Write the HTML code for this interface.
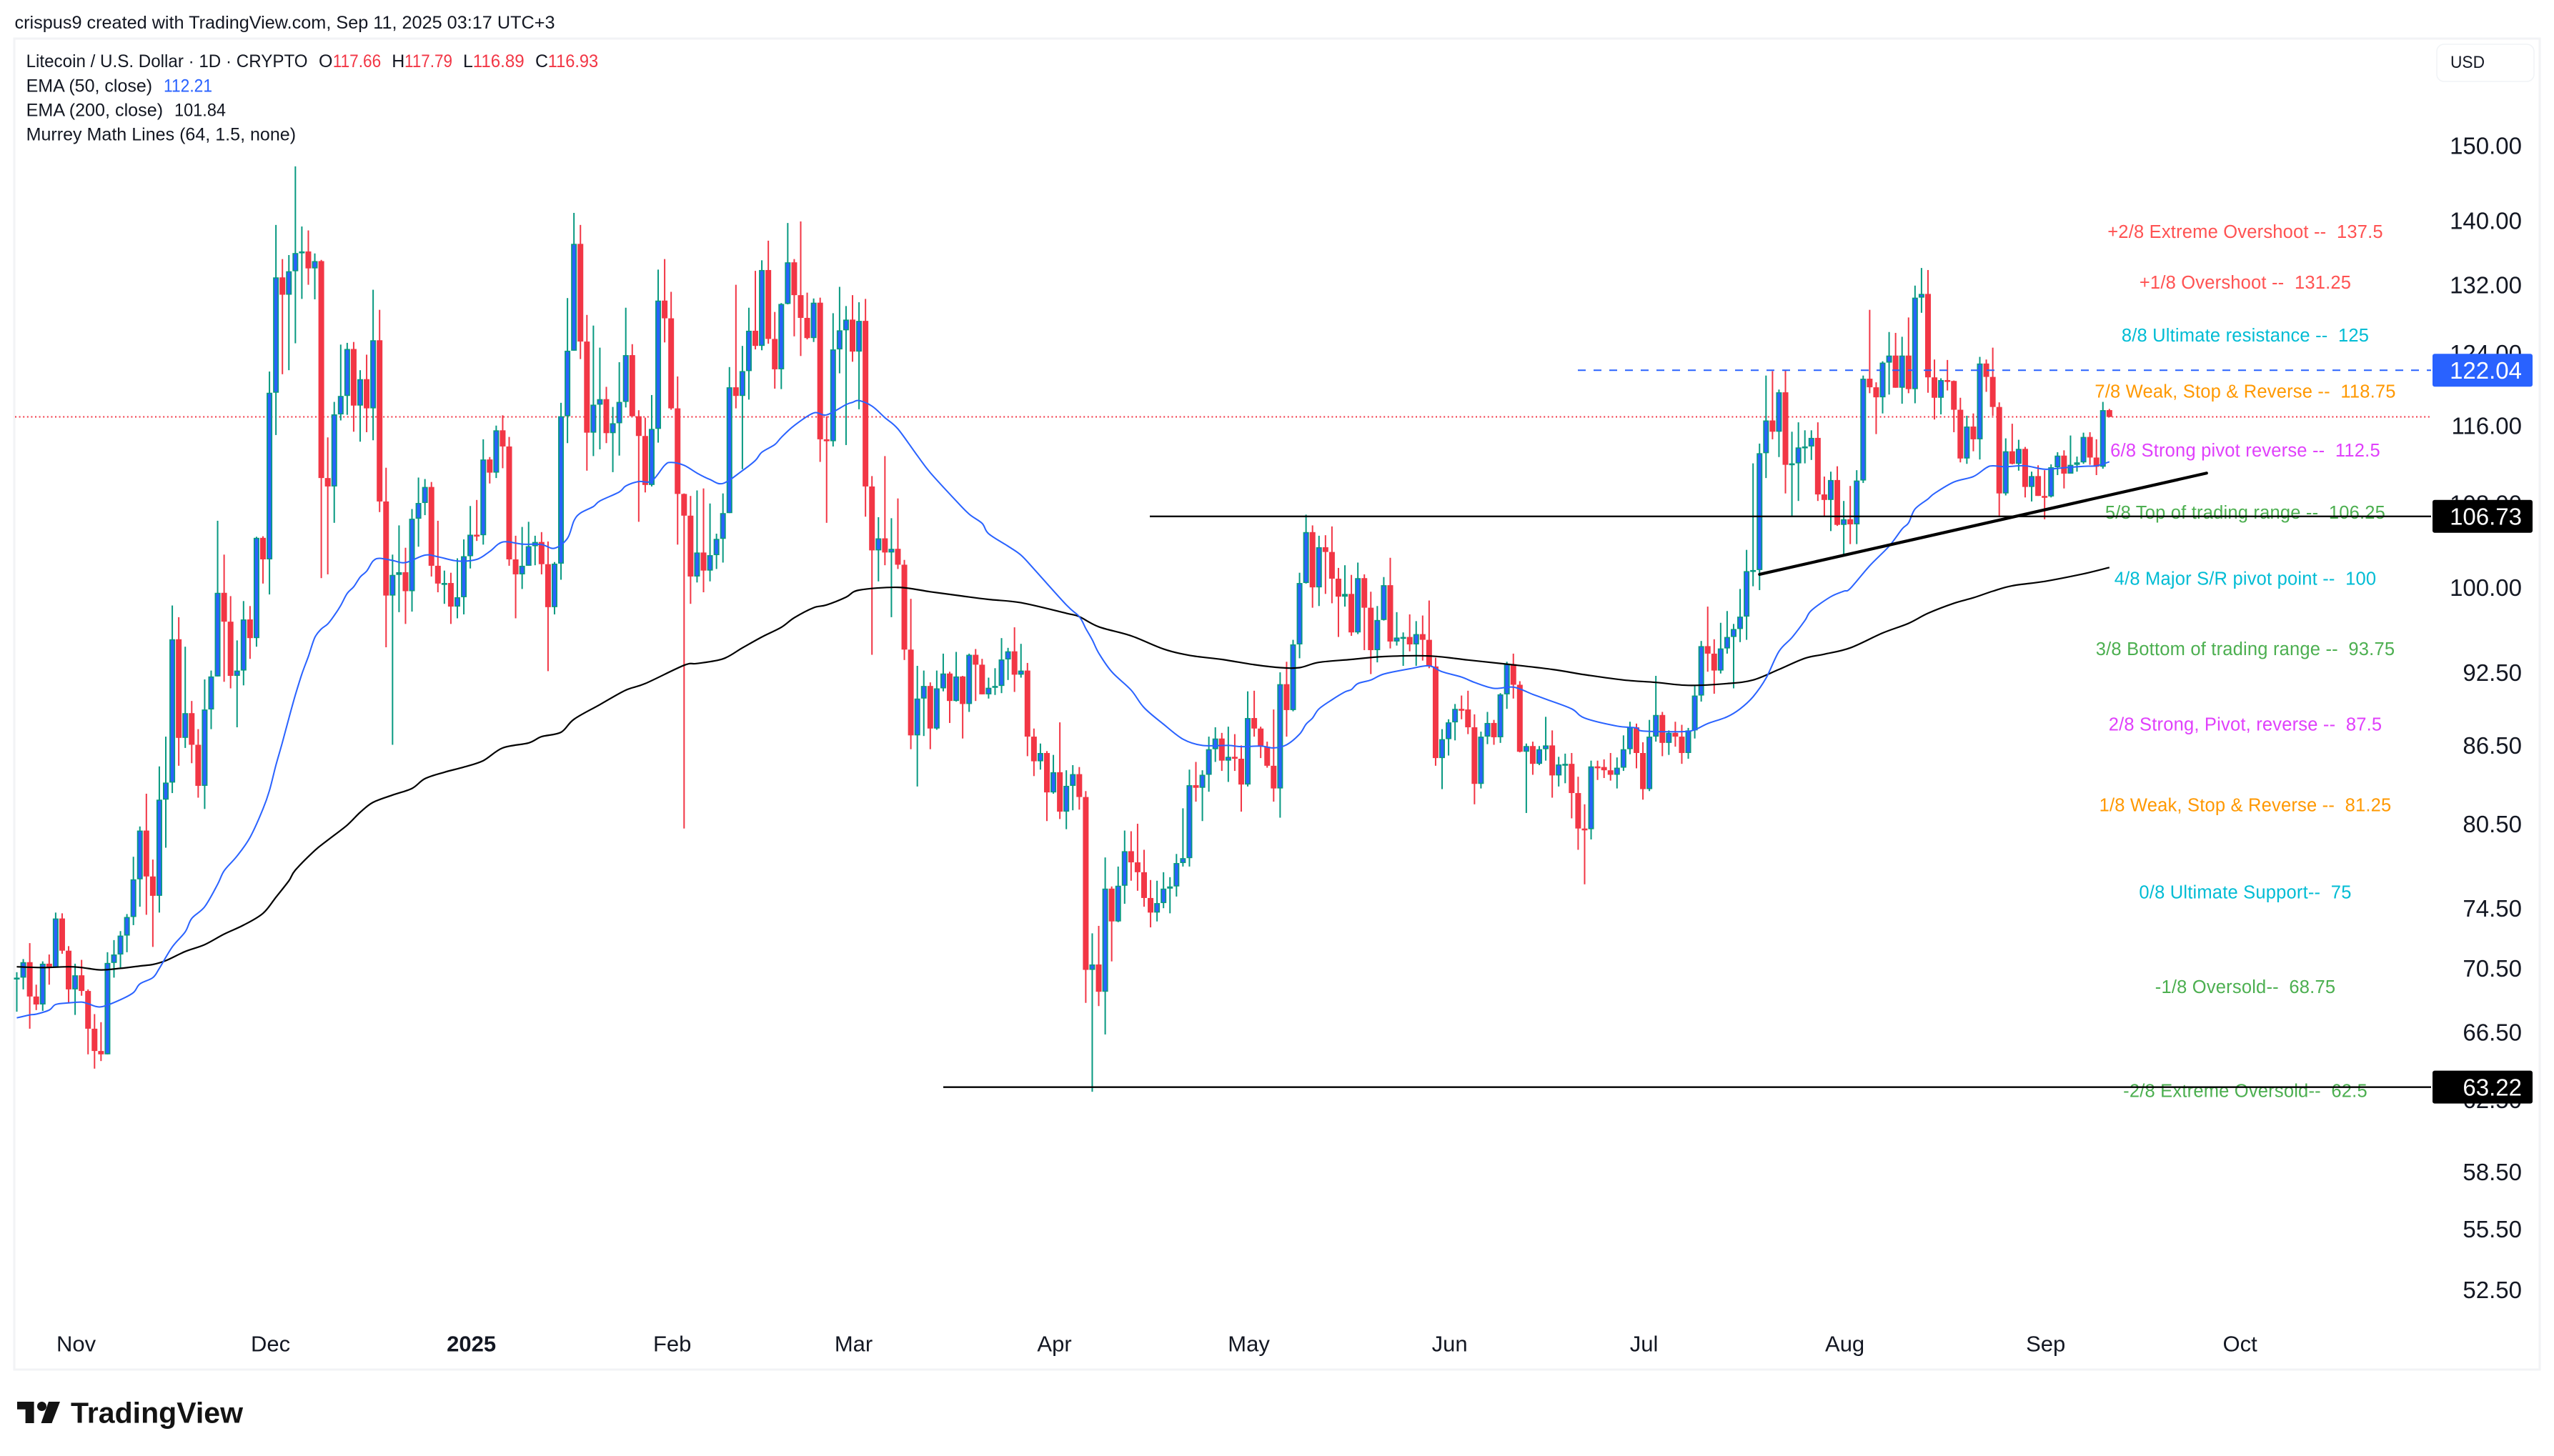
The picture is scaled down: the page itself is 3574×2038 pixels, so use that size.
<!DOCTYPE html>
<html lang="en">
<head>
<meta charset="utf-8">
<title>Litecoin / U.S. Dollar chart</title>
<style>
  html,body{margin:0;padding:0;background:#fff;width:3574px;height:2038px;overflow:hidden}
  svg{display:block;font-family:"Liberation Sans",sans-serif}
  text{white-space:pre}
</style>
</head>
<body>
<svg id="chart" xmlns="http://www.w3.org/2000/svg" width="3574" height="2038" viewBox="0 0 3574 2038">
  <rect x="0" y="0" width="3574" height="2038" fill="#ffffff"/>
  <rect x="20" y="54" width="3534" height="1863" fill="#ffffff" stroke="#f2f3f5" stroke-width="3"/>
  <g id="layer-price-line"></g>
  <g id="layer-candles"></g>
  <g id="layer-ema"></g>
  <g id="layer-murrey"></g>
  <g id="layer-drawings"></g>
  <g id="layer-yaxis"></g>
  <g id="layer-xaxis"></g>
  <g id="layer-badges"></g>

  <text x="20.5" y="40" font-size="25" fill="#131722" textLength="756" lengthAdjust="spacingAndGlyphs">crispus9 created with TradingView.com, Sep 11, 2025 03:17 UTC+3</text>

  <g font-size="25" fill="#131722">
    <text x="36.6" y="94" textLength="394" lengthAdjust="spacingAndGlyphs">Litecoin / U.S. Dollar · 1D · CRYPTO</text>
    <text x="446" y="94">O</text>
    <text x="465.7" y="94" fill="#f23645" textLength="67.5" lengthAdjust="spacingAndGlyphs">117.66</text>
    <text x="548.3" y="94">H</text>
    <text x="566" y="94" fill="#f23645" textLength="67" lengthAdjust="spacingAndGlyphs">117.79</text>
    <text x="648" y="94">L</text>
    <text x="661.7" y="94" fill="#f23645" textLength="72" lengthAdjust="spacingAndGlyphs">116.89</text>
    <text x="749" y="94">C</text>
    <text x="766.7" y="94" fill="#f23645" textLength="70.5" lengthAdjust="spacingAndGlyphs">116.93</text>
    <text x="36.6" y="128.3" textLength="176.5" lengthAdjust="spacingAndGlyphs">EMA (50, close)</text>
    <text x="229" y="128.3" fill="#2962ff" textLength="68" lengthAdjust="spacingAndGlyphs">112.21</text>
    <text x="36.6" y="162.3" textLength="191.5" lengthAdjust="spacingAndGlyphs">EMA (200, close)</text>
    <text x="244" y="162.3" textLength="72" lengthAdjust="spacingAndGlyphs">101.84</text>
    <text x="36.6" y="196.7" textLength="377.5" lengthAdjust="spacingAndGlyphs">Murrey Math Lines (64, 1.5, none)</text>
  </g>

  <g>
    <rect x="3410" y="62" width="136" height="52" rx="10" ry="10" fill="#ffffff" stroke="#f0f3f6" stroke-width="1.5"/>
    <text x="3429" y="95" font-size="24" fill="#131722" textLength="48" lengthAdjust="spacingAndGlyphs">USD</text>
  </g>

  <g>
    <path d="M24 1962H47.6V1992H35.6V1972.7H24Z" fill="#131313"/>
    <circle cx="58.5" cy="1968.5" r="6.5" fill="#131313"/>
    <path d="M68 1962H84L72.5 1992H57.5Z" fill="#131313"/>
    <text x="99" y="1991.7" font-size="41" font-weight="700" fill="#131313" textLength="241" lengthAdjust="spacingAndGlyphs">TradingView</text>
  </g>
</svg>

<script>
const firstOpen = 69.85;
const closes = [
69.9,70.9,68.7,68.2,70.8,70.55,73.8,71.65,69.15,70.05,
69.05,66.7,65.35,65.15,70.85,71.4,72.65,73.9,76.5,80.0,
76.7,75.35,82.3,83.6,95.35,87.1,89.1,86.55,83.35,89.4,
92.15,99.5,96.9,92.2,92.65,97.1,95.45,104.65,102.6,119.55,
132.9,130.8,133.65,135.9,136.1,134.0,134.9,110.55,109.7,117.2,
119.2,124.45,118.15,121.05,117.85,125.45,108.2,99.25,101.15,101.4,
99.65,106.5,108.05,109.65,102.0,100.35,100.4,98.25,99.1,102.9,
104.95,104.9,112.45,111.1,115.5,113.8,102.6,101.2,102.0,103.85,
104.25,102.15,98.2,102.2,117.0,124.25,137.05,125.3,115.25,118.25,
118.85,115.2,116.25,118.55,123.75,117.0,114.9,109.85,115.65,130.1,
128.0,117.85,108.95,106.8,101.0,103.25,101.55,103.0,104.55,107.05,
120.15,119.2,121.95,126.55,124.8,133.8,125.6,122.15,129.7,134.75,
130.75,128.05,125.7,129.85,114.55,114.35,124.4,126.6,127.85,124.15,
127.7,109.7,103.45,104.6,103.25,103.6,102.1,94.45,87.3,90.3,
91.35,87.85,91.15,92.4,90.1,92.15,89.85,94.0,93.15,90.65,
91.2,91.35,93.6,94.3,92.3,92.65,87.2,85.25,85.9,82.85,
84.4,81.4,83.35,84.25,82.5,70.4,70.75,69.0,75.85,73.6,
76.05,78.5,77.7,77.0,75.2,74.2,74.85,75.85,76.0,77.65,
78.0,83.4,83.2,84.2,86.2,87.05,85.3,85.6,85.45,83.45,
88.7,87.85,86.4,84.9,83.15,91.5,89.35,94.9,100.4,105.2,
100.0,103.75,103.3,100.8,99.15,99.4,95.95,100.85,98.15,94.4,
97.05,100.2,95.15,95.5,95.55,94.9,95.8,95.3,93.0,85.5,
87.0,88.35,89.45,89.4,87.95,83.5,87.2,88.3,87.15,90.65,
93.2,91.45,86.0,86.45,85.05,86.2,86.5,84.15,85.0,85.05,
82.8,80.15,80.1,84.85,84.8,84.55,84.2,84.75,86.2,87.95,
85.9,83.1,87.2,88.95,86.7,87.5,87.2,85.9,87.7,90.55,
94.75,94.1,92.65,94.55,95.55,96.25,97.35,101.5,101.6,113.1,
116.55,115.35,119.6,111.9,112.05,113.7,113.8,114.7,108.9,108.35,
110.35,105.9,106.45,105.95,110.3,121.1,120.15,119.05,122.9,123.7,
120.1,123.7,119.95,130.45,130.9,121.25,119.0,120.95,120.85,117.7,
112.55,115.9,114.55,122.8,121.3,118.0,109.0,113.3,112.0,113.55,
109.65,110.75,108.75,108.7,111.65,112.85,111.0,111.9,112.15,114.8,
112.65,111.7,117.66,116.93];
const highs = [
70.25,71.1,72.15,69.45,70.95,71.4,74.2,74.15,71.95,70.8,
71.05,69.15,67.6,67.1,71.55,72.35,72.95,74.1,78.1,80.3,
82.75,77.9,84.85,87.2,98.35,97.3,94.7,90.1,87.8,91.9,
92.65,106.3,103.05,99.2,95.25,98.75,98.3,104.75,104.8,121.9,
139.45,135.15,135.65,147.15,139.25,138.75,135.85,135.05,114.75,118.55,
124.95,125.15,125.25,122.05,123.8,131.4,129.0,111.6,103.05,105.85,
103.7,107.45,110.6,110.45,110.15,106.3,101.55,101.35,102.7,104.5,
107.75,108.35,114.55,112.7,116.0,117.1,114.8,104.85,105.7,106.2,
104.85,105.2,104.3,102.35,118.45,130.4,141.0,139.45,128.4,127.15,
124.6,120.2,118.0,122.95,129.25,125.0,117.65,116.85,119.3,133.85,
135.15,131.15,121.35,109.0,108.75,109.3,109.5,108.0,105.05,109.0,
122.4,132.0,124.8,129.25,133.7,135.0,137.45,128.75,129.8,139.7,
135.15,139.9,131.05,130.35,130.45,117.0,128.6,131.75,129.45,130.75,
129.9,130.3,110.75,106.65,112.8,106.55,108.5,102.55,98.95,93.05,
92.65,91.65,92.65,94.1,92.55,94.25,92.2,94.1,94.5,93.65,
92.05,92.85,95.45,94.6,96.4,94.95,93.3,87.85,86.65,86.05,
85.75,88.35,84.55,84.95,84.8,82.95,72.8,73.3,78.05,76.0,
77.4,80.0,79.95,80.5,78.6,76.45,76.4,77.0,76.65,78.3,
81.65,84.6,85.2,84.55,87.2,87.95,87.5,88.0,87.4,86.5,
90.9,90.95,88.0,86.8,89.4,92.5,93.4,95.3,101.35,106.9,
105.85,104.85,104.9,105.75,101.8,102.05,101.15,102.3,101.2,99.6,
98.3,100.95,102.75,97.75,95.95,97.55,96.95,97.45,98.8,93.75,
87.8,88.6,89.85,90.55,90.95,89.0,87.6,89.2,88.55,90.75,
93.4,94.1,91.75,86.65,86.8,86.45,88.8,87.7,85.6,85.85,
85.9,84.05,81.95,85.3,85.3,85.4,85.9,85.55,87.3,88.4,
88.25,86.75,88.55,92.2,89.2,87.7,88.4,88.15,87.9,91.35,
95.2,98.25,95.35,96.8,97.85,96.7,99.85,103.5,112.05,114.1,
121.45,121.95,119.9,122.1,115.35,116.35,115.5,115.5,116.35,110.7,
111.2,111.75,108.25,109.75,111.35,121.45,129.0,120.7,123.05,126.4,
126.3,125.85,128.1,131.9,134.05,133.8,123.25,121.15,123.2,120.9,
119.0,117.05,117.3,123.55,123.25,124.6,118.5,114.65,116.2,114.5,
113.75,111.2,111.85,111.35,111.95,113.2,113.4,114.95,112.75,115.25,
115.3,114.55,118.55,117.79];
const lows = [
67.75,69.15,66.7,67.85,67.8,69.45,70.55,71.45,68.3,67.55,
68.75,65.15,64.3,64.75,65.15,69.9,70.55,71.55,73.35,74.6,
74.05,71.9,74.2,78.75,82.8,84.9,86.3,85.1,82.45,81.6,
87.8,92.15,91.7,91.15,87.95,91.4,93.65,94.7,100.35,99.35,
115.0,121.6,122.05,125.1,130.3,132.0,130.25,100.85,101.2,106.1,
116.55,117.15,115.35,114.3,115.3,114.45,107.15,94.65,86.55,97.75,
96.7,97.8,103.8,106.85,101.0,99.55,98.5,96.7,97.2,97.55,
101.75,104.35,104.0,110.0,110.55,111.55,102.0,97.2,99.85,102.0,
102.05,101.2,92.6,97.55,100.7,114.15,124.25,123.3,111.3,112.8,
113.5,114.15,111.15,112.85,117.95,117.0,106.2,109.1,109.7,114.2,
125.2,117.7,104.0,80.15,98.5,100.45,99.55,100.55,101.7,102.3,
107.05,117.85,111.45,118.8,124.4,124.3,125.05,120.0,119.95,129.65,
125.9,123.65,125.55,125.25,112.2,106.1,113.8,121.7,113.95,123.0,
117.75,106.7,94.0,100.55,102.05,97.3,101.7,93.55,86.2,83.3,
87.25,86.2,87.75,90.9,88.3,90.05,87.05,89.2,90.1,90.65,
90.3,90.6,90.75,91.85,90.85,92.05,85.65,84.1,84.6,80.7,
82.75,80.85,80.1,81.5,81.55,68.3,62.95,68.1,66.35,70.95,
73.55,74.8,76.4,75.7,74.6,73.2,73.6,74.5,74.15,75.3,
77.4,77.4,82.15,80.7,82.9,85.2,84.5,83.65,84.5,81.4,
83.3,87.2,85.5,84.75,82.15,80.95,87.2,89.25,93.7,100.35,
98.15,98.3,99.4,98.55,95.55,98.25,95.65,95.8,94.4,92.35,
93.35,97.0,94.55,94.8,93.05,94.3,93.05,93.5,92.85,84.9,
83.1,85.7,86.9,88.6,87.4,81.95,83.15,86.6,86.55,86.7,
89.45,90.3,85.95,81.3,84.2,84.95,85.3,82.45,83.3,83.55,
80.9,78.6,76.15,79.35,83.8,83.95,83.75,83.15,84.5,85.8,
84.7,82.3,82.95,86.8,85.65,85.75,86.4,85.05,85.45,87.05,
90.05,92.55,90.7,92.4,94.1,91.15,95.1,95.3,100.1,99.75,
110.55,114.55,112.7,109.0,106.65,108.25,112.05,112.4,108.25,106.75,
105.3,105.8,103.05,104.05,104.05,110.05,119.5,115.1,117.3,119.35,
120.1,118.35,119.5,118.4,128.65,119.55,116.65,117.2,119.8,115.3,
112.15,112.0,113.3,112.45,119.65,117.05,106.65,108.8,111.95,111.3,
108.6,108.2,108.75,106.45,108.6,110.85,109.5,111.05,111.2,112.0,
111.9,110.85,111.5,116.89];

const ema50Bars = [0,2,3,5,6,8,10,11,13,16,18,19,21,22,24,26,27,29,31,32,34,36,38,39,40,41,42,43,44,45,46,47,48,49,50,51,52,53,54,55,56,58,60,63,65,68,71,73,75,78,81,83,85,86,87,89,90,93,94,96,98,100,101,103,105,107,109,112,114,115,117,118,120,123,125,128,129,130,132,134,136,139,141,145,147,149,150,153,155,157,162,164,165,166,167,169,172,174,177,180,183,187,189,192,194,196,198,199,200,201,203,205,206,207,209,211,215,218,220,223,225,228,231,234,236,240,242,247,250,251,257,259,261,264,266,268,270,272,274,276,277,280,282,283,286,289,291,292,293,295,296,299,302,304,305,307,310,313,316,319,321,323];
const ema50Values = [67.37,67.55,67.6,67.85,68.2,68.3,68.35,68.25,68.05,68.5,68.95,69.5,69.9,70.5,71.9,72.9,73.8,74.6,76.15,77.1,78.15,79.5,81.6,83.0,84.95,86.75,88.7,90.6,92.35,93.85,95.5,96.25,96.7,97.45,98.35,99.45,100.05,100.95,101.5,102.45,102.7,102.5,102.3,103.0,102.85,102.45,102.6,103.35,104.25,104.05,104.0,103.65,104.6,106.3,107.05,107.7,108.25,109.15,109.75,110.2,110.25,111.85,112.15,111.85,111.05,110.4,110.0,111.3,112.35,113.2,114.0,114.75,116.0,117.35,117.15,118.25,118.5,118.7,118.1,116.85,115.65,112.85,111.1,108.25,106.95,106.05,105.05,103.85,103.0,101.7,98.4,97.35,96.3,95.3,94.15,92.55,91.0,89.55,88.2,87.0,86.5,86.5,86.4,86.45,86.3,86.55,87.4,88.2,88.7,89.45,90.2,90.85,91.05,91.55,91.85,92.35,92.8,93.05,92.55,92.1,91.65,91.15,91.25,90.65,90.25,89.45,88.7,88.05,87.9,87.65,87.6,87.75,88.25,88.8,89.45,90.45,92.0,94.3,95.5,97.0,97.9,99.15,99.65,99.9,102.0,103.85,105.5,106.1,107.45,108.45,109.0,110.15,110.7,111.6,111.8,111.7,111.8,111.45,111.6,111.75,111.8,112.21];
const ema200Bars = [0,4,8,10,13,16,19,21,23,26,29,32,35,38,40,42,43,46,48,51,53,55,58,61,63,66,69,72,75,79,81,84,86,90,94,97,103,105,109,112,115,118,120,123,125,128,130,136,141,146,150,155,162,164,167,172,177,181,186,191,195,198,201,206,211,218,224,230,237,242,248,253,258,264,268,272,276,279,283,288,292,295,299,302,305,308,313,319,323];
const ema200Values = [70.6,70.55,70.6,70.55,70.4,70.5,70.65,70.75,71.0,71.6,72.05,72.75,73.35,74.15,75.25,76.4,77.15,78.55,79.3,80.4,81.35,82.1,82.65,83.15,83.9,84.4,84.8,85.3,86.3,86.7,87.2,87.55,88.6,89.8,91.0,91.55,93.1,93.25,93.65,94.6,95.55,96.4,97.25,98.15,98.4,99.1,99.75,100.0,99.6,99.2,98.9,98.6,97.65,97.35,96.45,95.65,94.5,93.95,93.6,93.15,92.9,92.9,93.35,93.6,93.85,93.9,93.55,93.2,92.75,92.3,91.85,91.65,91.4,91.55,91.85,92.75,93.7,94.05,94.6,95.9,96.75,97.65,98.55,99.05,99.65,100.15,100.55,101.25,101.84];

const priceTicks = [150,140,132,124,116,108,100,92.5,86.5,80.5,74.5,70.5,66.5,62.5,58.5,55.5,52.5];
const monthLabels = ["Nov","Dec","2025","Feb","Mar","Apr","May","Jun","Jul","Aug","Sep","Oct"];
const monthBars = [9,39,70,101,129,160,190,221,251,282,313,343];
const murreyLabels = ["+2/8 Extreme Overshoot --  137.5","+1/8 Overshoot --  131.25","8/8 Ultimate resistance --  125","7/8 Weak, Stop & Reverse --  118.75","6/8 Strong pivot reverse --  112.5","5/8 Top of trading range --  106.25","4/8 Major S/R pivot point --  100","3/8 Bottom of trading range --  93.75","2/8 Strong, Pivot, reverse --  87.5","1/8 Weak, Stop & Reverse --  81.25","0/8 Ultimate Support--  75","-1/8 Oversold--  68.75","-2/8 Extreme Oversold--  62.5"];
const murreyValues = [137.5,131.25,125,118.75,112.5,106.25,100,93.75,87.5,81.25,75,68.75,62.5];
const lastClose = 116.93;
const resistancePrice = 122.04;
const supportPrice = 106.73;
const lowPrice = 63.22;
const trendBars = [269,338];
const trendPrices = [101.2,111.05];

const SVG_NS = "http://www.w3.org/2000/svg";
const colorUp = "#089981";
const colorDown = "#f23645";
const colorUpFill = "#2962ff";
const murreyColors = ["#ff5252","#ff5252","#00bcd4","#ff9800","#e040fb","#4caf50","#00bcd4","#4caf50","#e040fb","#ff9800","#00bcd4","#4caf50","#4caf50"];
const paneRight = 3402;

function xAt(bar){ return 23.5 + 9.066 * bar; }
function yAt(price){ return (5.1441 - Math.log(price)) * 1525.5; }
function make(tag, attrs){
  const el = document.createElementNS(SVG_NS, tag);
  for (const k in attrs) el.setAttribute(k, attrs[k]);
  return el;
}
function layer(id){ return document.getElementById(id); }

// last price dotted line
(function(){
  const el = make("line",{x1:21,x2:paneRight,y1:yAt(lastClose),y2:yAt(lastClose),stroke:colorDown,"stroke-width":2,"stroke-dasharray":"2 3.6"});
  
  
  layer("layer-price-line").appendChild(el);
})();

// candles
closes.forEach(function(close, i){
  const open = i === 0 ? firstOpen : closes[i-1];
  const up = close >= open;
  const x = xAt(i);
  const top = yAt(Math.max(open, close));
  const bottom = yAt(Math.min(open, close));
  const g = make("g",{});
  
  
  const edge = up ? colorUp : colorDown;
  const wick = make("rect",{x:x-1,width:2,y:yAt(highs[i]),height:Math.max(1,yAt(lows[i])-yAt(highs[i])),fill:edge});
  
  
  g.appendChild(wick);
  const h = Math.max(2.6, bottom - top);
  const body = make("rect",{x:x-4,width:8,y:top,height:h,fill:edge});
  
  
  g.appendChild(body);
  if (up && h > 4.5) {
    const inner = make("rect",{x:x-2.2,width:4.4,y:top+1.6,height:h-3.2,fill:colorUpFill});
    
    
    g.appendChild(inner);
  }
  layer("layer-candles").appendChild(g);
});

// EMA lines: smooth curve through the sampled readings
function pathFrom(bars, values){
  const px = bars.map(xAt);
  const py = values.map(yAt);
  const n = px.length;
  let d = "M" + px[0].toFixed(1) + " " + py[0].toFixed(1);
  for (let i = 0; i < n - 1; i++) {
    const a = Math.max(i - 1, 0), b = Math.min(i + 2, n - 1);
    const c1x = px[i] + (px[i+1] - px[a]) / 6;
    const c1y = py[i] + (py[i+1] - py[a]) / 6;
    const c2x = px[i+1] - (px[b] - px[i]) / 6;
    const c2y = py[i+1] - (py[b] - py[i]) / 6;
    d += "C" + c1x.toFixed(1) + " " + c1y.toFixed(1) + " " + c2x.toFixed(1) + " " + c2y.toFixed(1) + " " + px[i+1].toFixed(1) + " " + py[i+1].toFixed(1);
  }
  return d;
}
(function(){
  const black = make("path",{d:pathFrom(ema200Bars, ema200Values),fill:"none",stroke:"#000000","stroke-width":2.2,"stroke-linejoin":"round"});
  
  
  layer("layer-ema").appendChild(black);
  const blue = make("path",{d:pathFrom(ema50Bars, ema50Values),fill:"none",stroke:"#2962ff","stroke-width":2,"stroke-linejoin":"round"});
  
  
  layer("layer-ema").appendChild(blue);
})();

// Murrey labels
murreyLabels.forEach(function(label, i){
  const t = make("text",{x:3142,y:yAt(murreyValues[i])-3.5,"text-anchor":"middle","font-size":25.5,"letter-spacing":0.2,fill:murreyColors[i]});
  
  
  t.textContent = label;
  layer("layer-murrey").appendChild(t);
});

// Drawn lines
(function(){
  const d = layer("layer-drawings");
  const res = make("line",{x1:2208,x2:paneRight,y1:yAt(resistancePrice),y2:yAt(resistancePrice),stroke:"#2962ff","stroke-width":2,"stroke-dasharray":"11 11"});
  
  
  d.appendChild(res);
  const sup = make("line",{x1:1609,x2:paneRight,y1:yAt(supportPrice),y2:yAt(supportPrice),stroke:"#000000","stroke-width":2.4});
  
  
  d.appendChild(sup);
  const low = make("line",{x1:1320,x2:paneRight,y1:yAt(lowPrice),y2:yAt(lowPrice),stroke:"#000000","stroke-width":2.4});
  
  
  d.appendChild(low);
  const tr = make("line",{x1:xAt(trendBars[0]),x2:xAt(trendBars[1]),y1:yAt(trendPrices[0]),y2:yAt(trendPrices[1]),stroke:"#000000","stroke-width":4.2,"stroke-linecap":"round"});
  
  
  d.appendChild(tr);
})();

// Price axis
priceTicks.forEach(function(p){
  const t = make("text",{x:3529,y:yAt(p)+11.8,"text-anchor":"end","font-size":33,fill:"#131722"});
  
  
  t.textContent = p.toFixed(2);
  layer("layer-yaxis").appendChild(t);
});

// Time axis
monthLabels.forEach(function(label, i){
  const bold = label === "2025";
  const t = make("text",{x:xAt(monthBars[i])+1.5,y:1891.7,"text-anchor":"middle","font-size":31,fill:"#131722","font-weight":bold?700:400});
  
  
  t.textContent = label;
  layer("layer-xaxis").appendChild(t);
});

// Badges
function badge(price, fill, name){
  const g = make("g",{});
  
  
  const cy = yAt(price);
  const r = make("rect",{x:3404,y:cy-23,width:140,height:46,rx:3,ry:3,fill:fill});
  
  
  g.appendChild(r);
  const t = make("text",{x:3529,y:cy+11.8,"text-anchor":"end","font-size":33,fill:"#ffffff"});
  
  
  t.textContent = price.toFixed(2);
  g.appendChild(t);
  layer("layer-badges").appendChild(g);
}
badge(resistancePrice, "#2962ff", "resistance-price-badge");
badge(supportPrice, "#000000", "support-price-badge");
badge(lowPrice, "#000000", "low-price-badge");
</script>
</body>
</html>
